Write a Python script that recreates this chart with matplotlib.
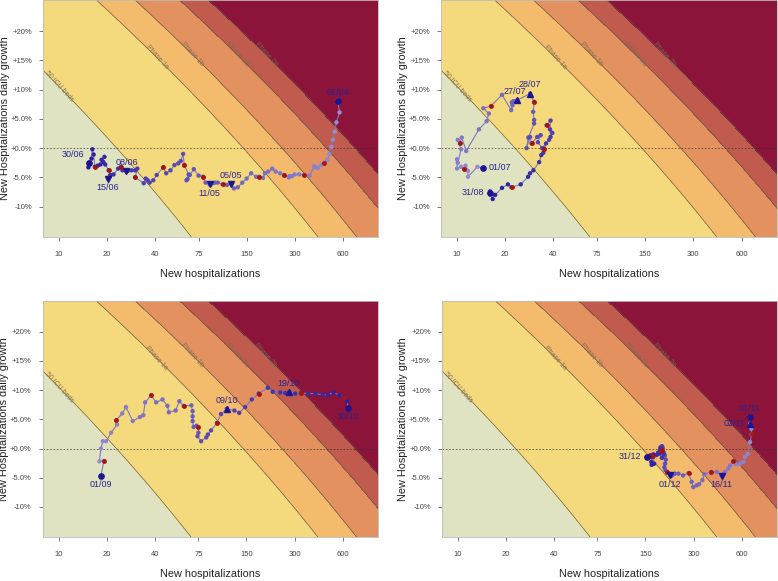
import numpy as np
import pandas as pd
import matplotlib
matplotlib.use('Agg')
import matplotlib.pyplot as plt
from matplotlib.colors import LinearSegmentedColormap

plt.rcParams['font.family'] = ['Liberation Sans', 'DejaVu Sans']

# zones: new hospitalizations reached at 0% growth on each boundary
zone_limits = [23, 143, 250, 475, 720]
zone_names = ['50 ICU beds', 'Phase 1a', 'Phase 1b', 'Phase 2a', 'Phase 2b']
zone_label_growth = [0.105, 0.155, 0.16, 0.16, 0.16]
zone_colors = ['#dfe3c1', '#f4d97d', '#f4bb6c', '#e3915f', '#c05b4d', '#8c1339']
curve_a, curve_b = 7.58, 3.15   # log-shift of boundaries vs growth

xticks = [10, 20, 40, 75, 150, 300, 600]
yticks = [-0.10, -0.05, 0.0, 0.05, 0.10, 0.15, 0.20]
ylabels = ['-10%', '-5.0%', '+0.0%', '+5.0%', '+10%', '+15%', '+20%']

# ---- panel 1 : 01/04 -> 30/06
hosp1 = [559, 573, 548, 535, 520, 510, 495, 480, 460, 440, 420, 405, 398, 372, 343, 320,
         300, 288, 278, 276, 258, 243, 228, 217, 205, 195, 190, 180, 172, 160, 150, 141,
         132, 125, 120, 113, 106, 99, 95, 92, 88, 83, 80, 75, 70, 66, 64, 63, 65, 61, 60,
         58, 56, 53, 50, 47, 45, 41, 39, 37, 36, 35, 34, 30, 31, 30, 28.5, 27, 26.5, 25,
         24.5, 23.5, 22, 21, 20.8, 20.3, 21, 20.5, 19.5, 19.0, 18.5, 19.3, 18.2, 17.5,
         16.8, 16.5, 16.2, 16.0, 15.6, 15.3, 15.4]
growth1 = [8.1, 6.1, 4.4, 2.8, 1.4, 0.2, -1.0, -2.0, -2.5, -2.9, -3.4, -3.3, -3.1, -4.7,
           -4.6, -4.5, -4.5, -4.8, -4.8, -5.0, -4.6, -4.3, -4.0, -3.5, -4.0, -4.3, -5.1,
           -4.9, -4.9, -4.3, -5.2, -5.9, -6.7, -6.9, -6.1, -6.3, -6.2, -5.9, -5.9, -6.0,
           -6.2, -5.9, -4.9, -4.7, -3.6, -4.6, -5.3, -5.5, -4.5, -2.9, -1.0, -2.2, -2.6,
           -2.9, -3.8, -4.3, -3.3, -4.6, -5.5, -5.9, -5.5, -5.2, -6.0, -5.0, -3.5, -3.8,
           -3.8, -3.9, -4.0, -3.8, -3.2, -3.5, -4.5, -4.6, -4.9, -5.2, -4.7, -3.8, -2.8,
           -2.4, -2.0, -1.5, -2.8, -3.0, -3.2, -1.1, -0.2, -1.8, -2.6, -3.3, -2.5]
red1 = [9, 15, 21, 28, 37, 43, 50, 57, 64, 71, 78, 85]
events1 = [('01/04', 'o'), ('05/05', 'v'), ('11/05', 'v'), ('08/06', 'v'), ('15/06', 'v'), ('30/06', 'o')]
offsets1 = [(0, 3, 'center', 'bottom'), (0, 3, 'center', 'bottom'), (0, -3, 'center', 'top'),
            (0, 3, 'center', 'bottom'), (0, -3, 'center', 'top'), (-3, 3, 'right', 'bottom')]

# ---- panel 2 : 01/07 -> 31/08
hosp2 = [14.6, 13.4, 11.7, 11.7, 11.3, 11.1, 10.6, 10.0, 10.0, 10.1, 10.6, 10.1, 10.4,
         10.7, 11.4, 13.7, 15.3, 15.8, 14.6, 16.3, 19.1, 21.8, 22.2, 22.4, 22.0, 23.0,
         23.8, 28.6, 30.3, 29.9, 30.3, 30.3, 27.9, 27.2, 28.6, 29.2, 31.7, 33.3, 32.0,
         34.0, 37.6, 39.4, 36.3, 38.4, 38.1, 38.4, 36.0, 34.6, 35.0, 33.6, 32.6, 30.0,
         28.6, 27.8, 25.0, 21.9, 20.8, 19.1, 17.3, 16.7, 16.1, 16.0]
growth2 = [-3.4, -3.2, -4.9, -3.9, -3.0, -3.6, -3.2, -3.5, -1.9, -2.5, -0.2, 1.4, 0.8,
           1.8, -0.5, 3.2, 4.6, 5.9, 6.8, 7.2, 9.1, 6.5, 7.3, 8.0, 7.8, 8.0, 8.2, 9.3, 7.9,
           6.2, 4.8, 4.2, 1.8, 0.0, 1.9, 0.8, 1.9, 2.2, 1.0, 0.0, 1.4, 2.6, 3.9, 4.7, 3.2,
           1.9, 0.8, -0.8, -0.1, -1.2, -2.4, -3.8, -4.3, -4.9, -6.2, -6.7, -6.2, -6.8,
           -8.0, -8.7, -7.4, -7.6]
red2 = [6, 13, 20, 29, 36, 43, 49, 56]
events2 = [('01/07', 'o'), ('27/07', '^'), ('28/07', '^'), ('31/08', 'o')]
offsets2 = [(4, 0, 'left', 'center'), (-2, 3, 'center', 'bottom'), (0, 3, 'center', 'bottom'),
            (-4, 0, 'right', 'center')]

# ---- panel 3 : 01/09 -> 30/10
hosp3 = [18.4, 19.2, 18.0, 18.4, 18.9, 19.8, 21.3, 23.2, 22.9, 25, 26.4, 29.1, 32.3, 33.9,
         34.8, 37.9, 40.8, 44.7, 48, 49, 54, 57, 60.6, 67.7, 69, 69, 69, 70, 73, 75, 75,
         74, 78, 84, 86, 90, 98, 104, 113, 126, 135, 147, 162, 179, 204, 219, 244, 262,
         275, 303, 329, 365, 405, 450, 486, 527, 573, 614, 640, 649]
growth3 = [-4.7, -2.1, -2.2, 0.0, 1.25, 1.25, 2.7, 4.1, 4.8, 6.0, 7.1, 4.7, 5.4, 5.7, 7.9,
           9.1, 7.9, 8.4, 7.3, 6.2, 6.5, 8.1, 7.3, 7.4, 6.4, 5.5, 4.7, 3.7, 3.9, 3.6, 2.7,
           2.1, 1.25, 1.9, 2.4, 3.1, 4.4, 5.9, 6.8, 6.5, 6.1, 7.1, 8.4, 9.4, 10.4, 9.7, 9.6,
           9.5, 9.6, 9.4, 9.5, 9.4, 9.4, 9.2, 9.2, 9.6, 9.1, 8.9, 8.1, 7.0]
red3 = [2, 9, 16, 23, 30, 37, 44, 51, 58]
events3 = [('01/09', 'o'), ('09/10', '^'), ('19/10', '^'), ('30/10', 'o')]
offsets3 = [(0, -3, 'center', 'top'), (0, 3, 'center', 'bottom'), (0, 3, 'center', 'bottom'),
            (0, -3, 'center', 'top')]

# ---- panel 4 : 01/11 -> 31/12
hosp4 = [678, 678, 690, 695, 678, 656, 631, 615, 587, 553, 533, 509, 496, 473, 462, 450,
         419, 386, 350, 341, 325, 314, 299, 292, 279, 258, 241, 229, 222, 218, 214, 206,
         200, 197, 199, 201, 198, 194, 189, 186, 190, 192, 196, 191, 185, 188, 183, 190,
         194, 187, 180, 176, 165, 168, 163, 164, 170, 168, 162, 160, 153]
growth4 = [5.4, 4.2, 3.4, 2.4, 1.1, -0.9, -1.4, -2.3, -2.6, -2.7, -2.2, -2.9, -3.4, -4.0,
           -4.4, -4.7, -4.0, -4.0, -4.4, -5.4, -6.1, -6.3, -6.6, -5.7, -4.2, -4.6, -4.3,
           -4.3, -4.5, -4.7, -4.6, -4.1, -3.7, -3.2, -2.6, -1.9, -1.2, -0.6, -0.3, 0.2,
           0.4, 0.0, -0.9, 0.3, -0.2, -0.5, -0.9, -1.6, -1.0, 0.1, -0.7, -1.1, -1.3, -1.0,
           -2.3, -2.8, -2.6, -1.4, -1.2, -1.2, -1.4]
red4 = [4, 11, 18, 25, 32, 39, 46, 53, 60]
events4 = [('01/11', 'o'), ('02/11', '^'), ('16/11', 'v'), ('01/12', 'v'), ('31/12', 'o')]
offsets4 = [(0, 3, 'center', 'bottom'), (-3, 0, 'right', 'center'), (0, -3, 'center', 'top'),
            (0, -3, 'center', 'top'), (-4, 0, 'right', 'center')]

panels = [('2020-04-01', hosp1, growth1, red1, events1, offsets1),
          ('2020-07-01', hosp2, growth2, red2, events2, offsets2),
          ('2020-09-01', hosp3, growth3, red3, events3, offsets3),
          ('2020-11-01', hosp4, growth4, red4, events4, offsets4)]

pt_cmap = LinearSegmentedColormap.from_list('pts', ['#9a8fd2', '#2a1b9c'])
navy = '#1d148f'

fig = plt.figure(figsize=(7.78, 5.81), dpi=100)
boxes = [[0.0553, 0.592, 0.4307, 0.408], [0.567, 0.592, 0.4317, 0.408],
         [0.0549, 0.0752, 0.4311, 0.4072], [0.568, 0.0752, 0.4307, 0.4072]]

xmin, xmax, ymin, ymax = 7.95, 1000, -0.152, 0.253
gx = np.exp(np.linspace(np.log(xmin), np.log(xmax), 400))
gy = np.linspace(ymin, ymax, 300)
GX, GY = np.meshgrid(gx, gy)
Z = np.log(GX) + curve_a * GY + curve_b * GY ** 2
lv = np.log(zone_limits)

for box, (start, hosp, growth, red, events, offs) in zip(boxes, panels):
    ax = fig.add_axes(box)
    ax.set_xscale('log')
    ax.contourf(GX, GY, Z, levels=[-50] + list(lv) + [50], colors=zone_colors)
    ax.contour(GX, GY, Z, levels=lv, colors='#5e5a45', linewidths=0.45)
    for lim, name, g in zip(zone_limits, zone_names, zone_label_growth):
        xl = lim * np.exp(-(curve_a * g + curve_b * g ** 2))
        ax.text(xl, g, name, rotation=-48, fontsize=5, color='#7a6c52', alpha=0.9,
                ha='center', va='center')
    ax.axhline(0, color='#333333', lw=0.6, ls=(0, (2, 2)), alpha=0.8)

    dates = pd.date_range(start, periods=len(hosp)).strftime('%d/%m')
    x = np.array(hosp, dtype=float)
    y = np.array(growth) / 100
    ax.plot(x, y, color='#7c78c0', lw=0.8, zorder=3)
    cols = pt_cmap(np.linspace(0, 1, len(x)))
    ax.scatter(x, y, s=10, c=cols, zorder=4, linewidths=0)
    ri = np.array(red) - 1
    ax.scatter(x[ri], y[ri], s=12, c='#a5140f', zorder=5, linewidths=0)
    for (d, m), (dx, dy, ha, va) in zip(events, offs):
        i = list(dates).index(d)
        ax.plot(x[i], y[i], marker=m, color=navy, ms=3.8, zorder=6, ls='none')
        ax.annotate(d, (x[i], y[i]), xytext=(dx, dy), textcoords='offset points',
                    ha=ha, va=va, fontsize=6.5, color='#2a2490', zorder=7)

    ax.set_xlim(xmin, xmax)
    ax.set_ylim(ymin, ymax)
    ax.set_xticks(xticks)
    ax.set_xticklabels([str(t) for t in xticks])
    ax.minorticks_off()
    ax.set_yticks(yticks)
    ax.set_yticklabels(ylabels)
    ax.tick_params(labelsize=5.5, colors='#444444', length=3, width=0.5, pad=5)
    ax.tick_params(axis='x', pad=7)
    for s in ax.spines.values():
        s.set_color('#bbbbbb')
        s.set_linewidth(0.6)
    ax.set_xlabel('New hospitalizations', fontsize=7.8, color='#222222')
    ax.set_ylabel('New Hospitalizations daily growth', fontsize=7.8, color='#222222')
    ax.xaxis.set_label_coords(0.5, -0.135)
    ax.yaxis.set_label_coords(-0.1, 0.5)

fig.savefig('out.png', dpi=100)
